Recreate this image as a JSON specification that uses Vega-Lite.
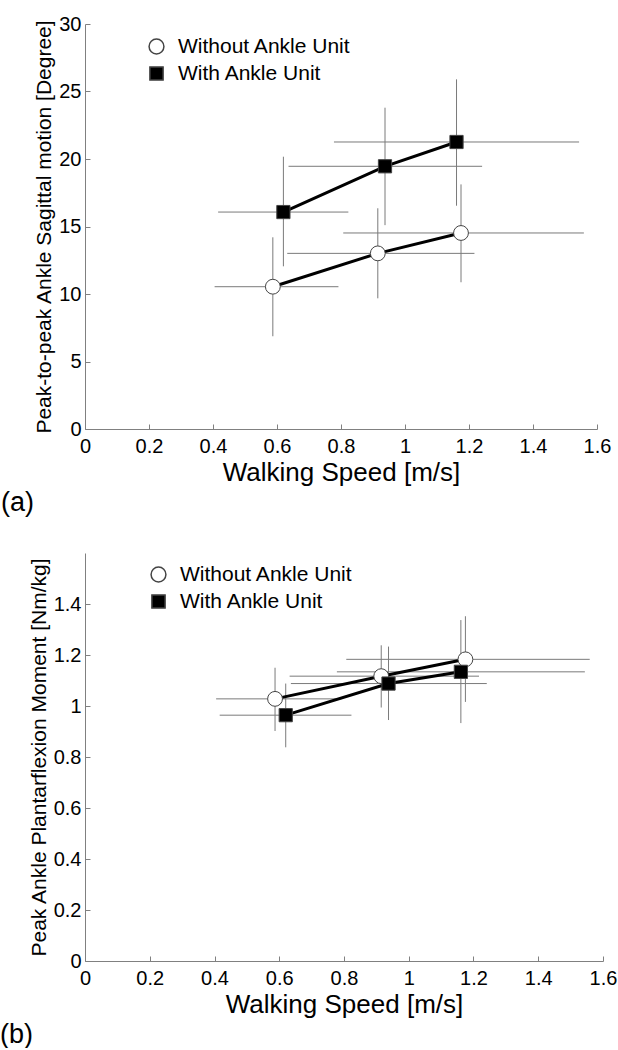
{
  "$schema": "https://vega.github.io/schema/vega-lite/v6.json",
  "padding": {"left": 0, "top": 14, "right": 5, "bottom": 0},
  "config": {
    "font": "Liberation Sans",
    "view": {"stroke": null},
    "axis": {
      "domainColor": "#808080", "tickColor": "#808080", "labelColor": "#000000", "titleColor": "#000000",
      "labelFont": "Liberation Sans", "titleFont": "Liberation Sans", "labelFontSize": 20,
      "titleFontWeight": "normal", "grid": false, "tickSize": -5, "labelPadding": 9,
      "labelFlush": false, "labelOverlap": false
    },
    "legend": {
      "title": null, "labelFontSize": 21, "labelFont": "Liberation Sans", "labelColor": "#000000",
      "padding": 0, "rowPadding": 5, "labelOffset": 11, "labelLimit": 400
    },
    "concat": {"spacing": 37}
  },
  "resolve": {"scale": {"shape": "independent", "fill": "independent", "size": "independent"}},
  "datasets": {
    "d": [
      {"panel": "a", "group": "Without Ankle Unit", "speed": 0.587, "speed_lo": 0.405, "speed_hi": 0.792, "value": 10.54, "value_lo": 6.87, "value_hi": 14.2},
      {"panel": "a", "group": "Without Ankle Unit", "speed": 0.915, "speed_lo": 0.632, "speed_hi": 1.217, "value": 13.01, "value_lo": 9.68, "value_hi": 16.35},
      {"panel": "a", "group": "Without Ankle Unit", "speed": 1.175, "speed_lo": 0.807, "speed_hi": 1.559, "value": 14.52, "value_lo": 10.87, "value_hi": 18.12},
      {"panel": "a", "group": "With Ankle Unit", "speed": 0.62, "speed_lo": 0.416, "speed_hi": 0.823, "value": 16.07, "value_lo": 12.05, "value_hi": 20.17},
      {"panel": "a", "group": "With Ankle Unit", "speed": 0.9375, "speed_lo": 0.636, "speed_hi": 1.241, "value": 19.46, "value_lo": 15.1, "value_hi": 23.8},
      {"panel": "a", "group": "With Ankle Unit", "speed": 1.161, "speed_lo": 0.778, "speed_hi": 1.544, "value": 21.26, "value_lo": 16.54, "value_hi": 25.9},
      {"panel": "b", "group": "Without Ankle Unit", "speed": 0.587, "speed_lo": 0.405, "speed_hi": 0.792, "value": 1.028, "value_lo": 0.902, "value_hi": 1.15},
      {"panel": "b", "group": "Without Ankle Unit", "speed": 0.915, "speed_lo": 0.632, "speed_hi": 1.217, "value": 1.117, "value_lo": 0.994, "value_hi": 1.238},
      {"panel": "b", "group": "Without Ankle Unit", "speed": 1.175, "speed_lo": 0.807, "speed_hi": 1.559, "value": 1.183, "value_lo": 1.016, "value_hi": 1.352},
      {"panel": "b", "group": "With Ankle Unit", "speed": 0.62, "speed_lo": 0.416, "speed_hi": 0.823, "value": 0.964, "value_lo": 0.838, "value_hi": 1.088},
      {"panel": "b", "group": "With Ankle Unit", "speed": 0.9375, "speed_lo": 0.636, "speed_hi": 1.241, "value": 1.088, "value_lo": 0.945, "value_hi": 1.233},
      {"panel": "b", "group": "With Ankle Unit", "speed": 1.161, "speed_lo": 0.778, "speed_hi": 1.544, "value": 1.134, "value_lo": 0.933, "value_hi": 1.337}
    ]
  },
  "data": {"name": "d"},
  "vconcat": [
    {
      "width": 512, "height": 405,
      "title": {"text": "(a)", "orient": "bottom", "anchor": "start", "frame": "group", "dx": -84, "fontSize": 27, "fontWeight": "normal", "font": "Liberation Sans", "offset": 5, "color": "#000000"},
      "transform": [{"filter": "datum.panel == 'a'"}],
      "layer": [
        {
          "mark": {"type": "rule", "color": "#7a7a7a", "strokeWidth": 1},
          "encoding": {
            "x": {"field": "speed_lo", "type": "quantitative", "scale": {"domain": [0, 1.6]}, "title": "Walking Speed [m/s]",
                  "axis": {"values": [0, 0.2, 0.4, 0.6, 0.8, 1, 1.2, 1.4, 1.6], "format": ".1~f", "titleFontSize": 26, "titlePadding": 3, "labelPadding": 12}},
            "x2": {"field": "speed_hi"},
            "y": {"field": "value", "type": "quantitative", "scale": {"domain": [0, 30]}, "title": "Peak-to-peak Ankle Sagittal motion [Degree]",
                  "axis": {"values": [0, 5, 10, 15, 20, 25, 30], "format": "d", "titleFontSize": 21, "titlePadding": 4}}
          }
        },
        {
          "mark": {"type": "rule", "color": "#7a7a7a", "strokeWidth": 1},
          "encoding": {
            "x": {"field": "speed", "type": "quantitative", "title": "Walking Speed [m/s]"},
            "y": {"field": "value_lo", "type": "quantitative", "title": "Peak-to-peak Ankle Sagittal motion [Degree]"},
            "y2": {"field": "value_hi"}
          }
        },
        {
          "mark": {"type": "line", "color": "#000000", "strokeWidth": 3},
          "encoding": {
            "x": {"field": "speed", "type": "quantitative", "title": "Walking Speed [m/s]"},
            "y": {"field": "value", "type": "quantitative", "title": "Peak-to-peak Ankle Sagittal motion [Degree]"},
            "detail": {"field": "group"},
            "order": {"field": "speed"}
          }
        },
        {
          "mark": {"type": "point", "filled": true, "stroke": "#444444", "strokeWidth": 1, "opacity": 1},
          "encoding": {
            "x": {"field": "speed", "type": "quantitative", "title": "Walking Speed [m/s]"},
            "y": {"field": "value", "type": "quantitative", "title": "Peak-to-peak Ankle Sagittal motion [Degree]"},
            "shape": {"field": "group", "type": "nominal", "scale": {"domain": ["Without Ankle Unit", "With Ankle Unit"], "range": ["circle", "square"]},
                      "legend": {"orient": "none", "legendX": 61, "legendY": 12, "encode": {"symbols": {"update": {"stroke": {"value": "#444444"}, "strokeWidth": {"value": 1}}}}}},
            "fill": {"field": "group", "type": "nominal", "scale": {"domain": ["Without Ankle Unit", "With Ankle Unit"], "range": ["#ffffff", "#000000"]},
                      "legend": {"orient": "none", "legendX": 61, "legendY": 12, "encode": {"symbols": {"update": {"stroke": {"value": "#444444"}, "strokeWidth": {"value": 1}}}}}},
            "size": {"field": "group", "type": "nominal", "scale": {"domain": ["Without Ankle Unit", "With Ankle Unit"], "range": [220, 175]},
                      "legend": {"orient": "none", "legendX": 61, "legendY": 12, "encode": {"symbols": {"update": {"stroke": {"value": "#444444"}, "strokeWidth": {"value": 1}}}}}}
          }
        }
      ]
    },
    {
      "width": 518, "height": 408,
      "title": {"text": "(b)", "orient": "bottom", "anchor": "start", "frame": "group", "dx": -85, "fontSize": 27, "fontWeight": "normal", "font": "Liberation Sans", "offset": 5, "color": "#000000"},
      "transform": [{"filter": "datum.panel == 'b'"}],
      "layer": [
        {
          "mark": {"type": "rule", "color": "#7a7a7a", "strokeWidth": 1},
          "encoding": {
            "x": {"field": "speed_lo", "type": "quantitative", "scale": {"domain": [0, 1.6]}, "title": "Walking Speed [m/s]",
                  "axis": {"values": [0, 0.2, 0.4, 0.6, 0.8, 1, 1.2, 1.4, 1.6], "format": ".1~f", "titleFontSize": 26, "titlePadding": 3, "labelPadding": 12}},
            "x2": {"field": "speed_hi"},
            "y": {"field": "value", "type": "quantitative", "scale": {"domain": [0, 1.5]}, "title": "Peak Ankle Plantarflexion Moment [Nm/kg]",
                  "axis": {"values": [0, 0.2, 0.4, 0.6, 0.8, 1, 1.2, 1.4], "format": ".1~f", "titleFontSize": 21, "titlePadding": 4}}
          }
        },
        {
          "mark": {"type": "rule", "color": "#7a7a7a", "strokeWidth": 1},
          "encoding": {
            "x": {"field": "speed", "type": "quantitative", "title": "Walking Speed [m/s]"},
            "y": {"field": "value_lo", "type": "quantitative", "title": "Peak Ankle Plantarflexion Moment [Nm/kg]"},
            "y2": {"field": "value_hi"}
          }
        },
        {
          "mark": {"type": "line", "color": "#000000", "strokeWidth": 3},
          "encoding": {
            "x": {"field": "speed", "type": "quantitative", "title": "Walking Speed [m/s]"},
            "y": {"field": "value", "type": "quantitative", "title": "Peak Ankle Plantarflexion Moment [Nm/kg]"},
            "detail": {"field": "group"},
            "order": {"field": "speed"}
          }
        },
        {
          "mark": {"type": "point", "filled": true, "stroke": "#444444", "strokeWidth": 1, "opacity": 1},
          "encoding": {
            "x": {"field": "speed", "type": "quantitative", "title": "Walking Speed [m/s]"},
            "y": {"field": "value", "type": "quantitative", "title": "Peak Ankle Plantarflexion Moment [Nm/kg]"},
            "shape": {"field": "group", "type": "nominal", "scale": {"domain": ["Without Ankle Unit", "With Ankle Unit"], "range": ["circle", "square"]},
                      "legend": {"orient": "none", "legendX": 63, "legendY": 11, "encode": {"symbols": {"update": {"stroke": {"value": "#444444"}, "strokeWidth": {"value": 1}}}}}},
            "fill": {"field": "group", "type": "nominal", "scale": {"domain": ["Without Ankle Unit", "With Ankle Unit"], "range": ["#ffffff", "#000000"]},
                      "legend": {"orient": "none", "legendX": 63, "legendY": 11, "encode": {"symbols": {"update": {"stroke": {"value": "#444444"}, "strokeWidth": {"value": 1}}}}}},
            "size": {"field": "group", "type": "nominal", "scale": {"domain": ["Without Ankle Unit", "With Ankle Unit"], "range": [220, 175]},
                      "legend": {"orient": "none", "legendX": 63, "legendY": 11, "encode": {"symbols": {"update": {"stroke": {"value": "#444444"}, "strokeWidth": {"value": 1}}}}}}
          }
        }
      ]
    }
  ]
}
